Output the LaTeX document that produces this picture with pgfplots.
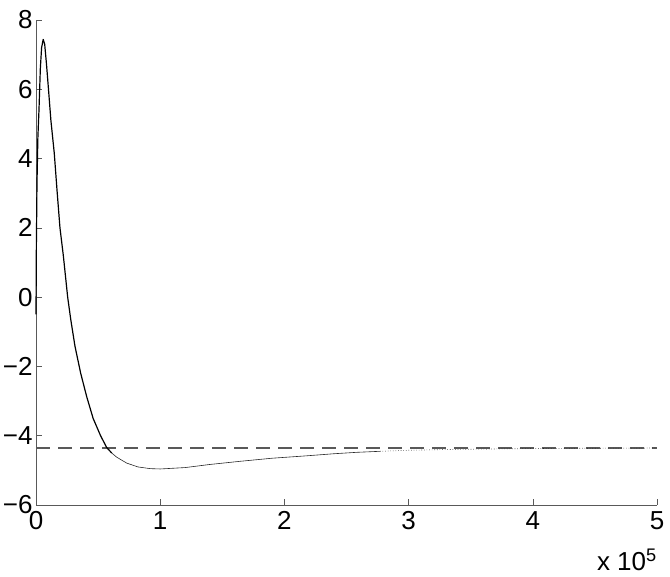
\documentclass[border=0pt]{standalone}
\usepackage{fontspec}
\setmainfont{Liberation Sans}
\usepackage{pgfplots}
\pgfplotsset{compat=1.18}
\begin{document}
\begin{tikzpicture}[font=\fontsize{26bp}{30bp}\selectfont]
\begin{axis}[
  at={(0,0)}, anchor=south west,
  scale only axis,
  width=621bp, height=485bp,
  xmin=0, xmax=5, ymin=-6, ymax=8,
  axis x line=bottom, axis y line=left,
  axis line style={-, draw=black!65, line width=0.8pt},
  xtick={0,1,2,3,4,5},
  ytick={-6,-4,-2,0,2,4,6,8},
  yticklabels={−6,−4,−2,0,2,4,6,8},
  xticklabels={0,1,2,3,4,5},
  tick label style={font=\fontsize{26bp}{30bp}\selectfont},
  tick align=inside,
  major tick length=6bp,
  tick style={draw=black!65, line width=0.6pt},
  xticklabel style={yshift=-6bp, inner ysep=0pt, anchor=north},
  yticklabel style={inner ysep=0pt},
  clip=false,
]
\addplot[black!65, line width=1.1pt, dash pattern=on 14bp off 8bp] coordinates {(0,-4.355) (5,-4.355)};
\addplot[black, line width=1.2pt, line join=round] coordinates {
(0,-0.5) (0.003,1.5) (0.008,3.3) (0.015,4.6) (0.024,5.4) (0.035,6.6) (0.045,7.2)
(0.058,7.44) (0.07,7.3) (0.085,6.7) (0.099,6.07) (0.12,5.1) (0.147,4.16)
(0.17,3.05) (0.193,2.0) (0.22,1.2) (0.255,0) (0.28,-0.65) (0.314,-1.42)
(0.36,-2.2) (0.408,-2.87) (0.46,-3.5) (0.52,-4.0) (0.569,-4.34) (0.61,-4.5)
};
\addplot[black!85, line width=0.6pt, line join=round] coordinates {
(0.61,-4.5) (0.65,-4.62) (0.73,-4.79) (0.82,-4.9) (0.918,-4.95) (1.0,-4.96)
(1.2,-4.92) (1.4,-4.83) (1.64,-4.74) (1.9,-4.65) (2.18,-4.58) (2.4,-4.52)
(2.58,-4.48) (2.77,-4.45)
};
\addplot[black!85, line width=0.6pt, dotted] coordinates {
(2.77,-4.45) (3.0,-4.42) (3.3,-4.40) (3.74,-4.38) (4.2,-4.365) (5,-4.355)
};
\node[anchor=base east, inner sep=0pt] at (rel axis cs:1,0) [yshift=-65bp] {x 10$^{\mathrm{5}}$};
\end{axis}
\pgfresetboundingbox
\path[use as bounding box] (-36bp,-72bp) rectangle (634bp,505bp);
\end{tikzpicture}
\end{document}
